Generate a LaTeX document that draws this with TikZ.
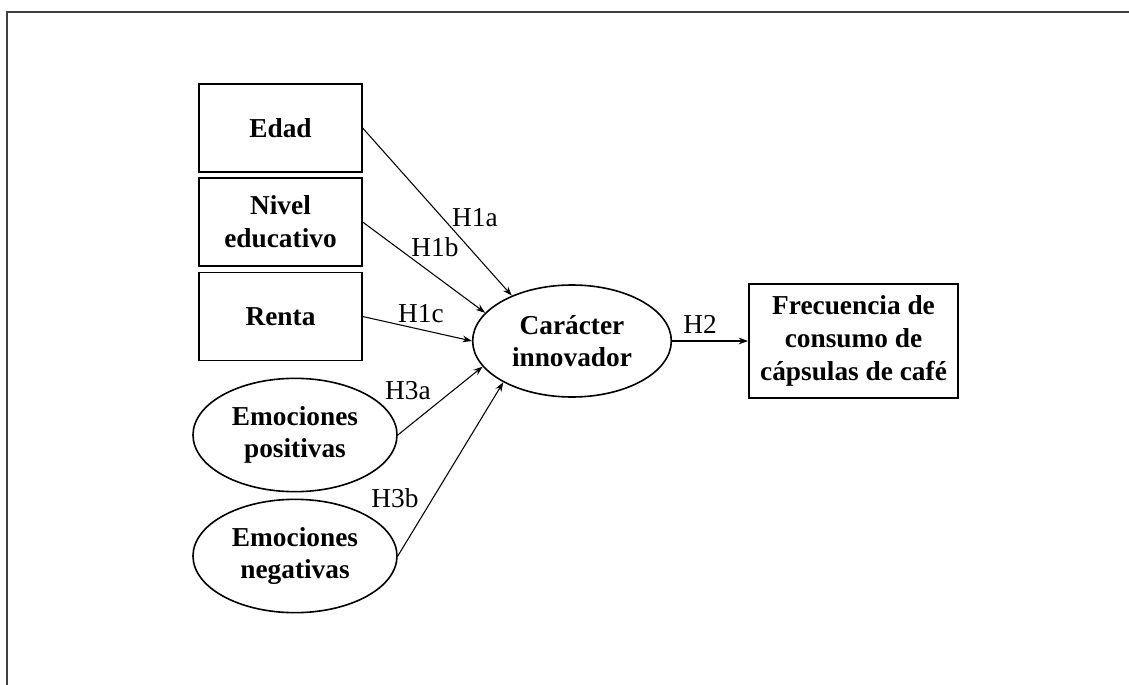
\documentclass[tikz,border=0pt]{standalone}
\usepackage{fontspec}
\setmainfont{Liberation Serif}
\usetikzlibrary{shapes.geometric,arrows.meta}

\begin{document}
\begin{tikzpicture}[x=0.75pt,y=0.75pt,yscale=-1,xscale=1,
  varbox/.style={draw, line width=1.2pt, minimum width=122pt, minimum height=66pt, inner sep=0pt, align=center, font=\fontsize{20.5}{24.5}\selectfont\bfseries},
  latent/.style={ellipse, draw, line width=1.2pt, minimum width=153pt, minimum height=85pt, inner sep=0pt, align=center, font=\fontsize{20.5}{24.5}\selectfont\bfseries},
  hyp/.style={inner sep=0pt, font=\fontsize{20.5}{24.5}\selectfont},
  rel/.style={line width=0.8pt, -{Stealth[length=7pt,width=5pt]}}]
\useasboundingbox (0,0) rectangle (1129,685);

%Frame
\draw [line width=1.5pt, color=black!75] (6.5,685) -- (6.5,12.5) -- (1129,12.5) ;

%Shape: Rectangle
\node [varbox] (edad) at (280.5,128) {Edad};
%Shape: Rectangle
\node [varbox] (nivel) at (280.5,222) {Nivel\\educativo};
%Shape: Rectangle
\node [varbox] (renta) at (280.5,316.5) {Renta};
%Shape: Ellipse
\node [latent] (emopos) at (295,435) {Emociones\\positivas};
%Shape: Ellipse
\node [latent] (emoneg) at (295,556) {Emociones\\negativas};
%Shape: Ellipse
\node [latent, minimum width=149pt, minimum height=84pt] (car) at (572,341) {Carácter\\innovador};
%Shape: Rectangle
\node [varbox, minimum width=157pt, minimum height=85.5pt] (frec) at (853.5,341) {Frecuencia de\\consumo de\\cápsulas de café};

%Straight Lines
\draw [rel] (edad.east) -- (car.143) ;
\draw [rel] (nivel.east) -- (car.162) ;
\draw [rel] (renta.east) -- (car.180) ;
\draw [rel] (emopos.east) -- (car.196) ;
\draw [rel] (emoneg.east) -- (car.211) ;
\draw [rel] (car.east) -- (frec.west) ;

% Text Node
\node [hyp] (h1a) at (475,218) {H1a};
% Text Node
\node [hyp] (h1b) at (435,247) {H1b};
% Text Node
\node [hyp] (h1c) at (421,314) {H1c};
% Text Node
\node [hyp] (h3a) at (408,391) {H3a};
% Text Node
\node [hyp] (h3b) at (395,498) {H3b};
% Text Node
\node [hyp] (h2) at (700,324) {H2};

\end{tikzpicture}
\end{document}
